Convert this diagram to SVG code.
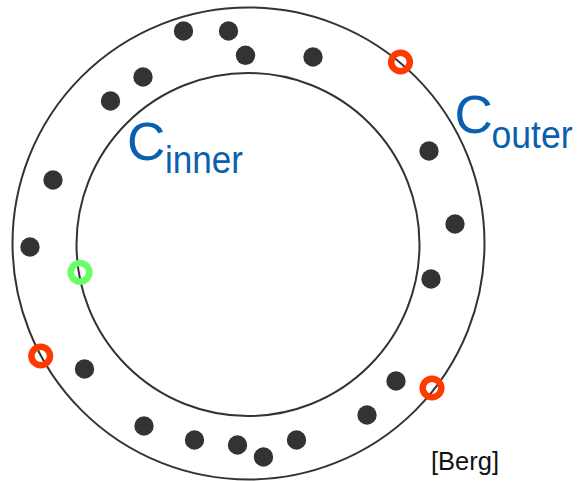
<svg xmlns="http://www.w3.org/2000/svg" width="577" height="481" viewBox="0 0 577 481">
<style>
.ring{fill:none;stroke:#333;stroke-width:2}
.pt{fill:#333}
.red{fill:none;stroke:#ff3a00;stroke-width:6.5}
.grn{fill:none;stroke:#66ff66;stroke-width:6.5}
.lbl{font-family:"Liberation Sans",Arial,sans-serif;fill:#0a5fb0}
.cite{font-family:"Liberation Sans",Arial,sans-serif;fill:#111;font-size:25px}
</style>
<rect width="577" height="481" fill="#fff"/>
<g id="outer-circle"><circle class="ring" cx="248.5" cy="243.5" r="236"/></g>
<g id="inner-circle"><circle class="ring" cx="248" cy="244.5" r="171.5"/></g>
<g id="points">
<circle class="pt" cx="183.5" cy="31" r="9.7"/>
<circle class="pt" cx="228.5" cy="31" r="9.7"/>
<circle class="pt" cx="245.5" cy="55.3" r="9.7"/>
<circle class="pt" cx="313" cy="57" r="9.7"/>
<circle class="pt" cx="143" cy="77" r="9.7"/>
<circle class="pt" cx="110.5" cy="101" r="9.7"/>
<circle class="pt" cx="53" cy="180" r="9.7"/>
<circle class="pt" cx="30" cy="247" r="9.7"/>
<circle class="pt" cx="84.5" cy="369" r="9.7"/>
<circle class="pt" cx="144" cy="426" r="9.7"/>
<circle class="pt" cx="194.5" cy="440" r="9.7"/>
<circle class="pt" cx="237.5" cy="445" r="9.7"/>
<circle class="pt" cx="263.5" cy="457" r="9.7"/>
<circle class="pt" cx="296.5" cy="440" r="9.7"/>
<circle class="pt" cx="367" cy="415" r="9.7"/>
<circle class="pt" cx="396" cy="381" r="9.7"/>
<circle class="pt" cx="429" cy="151" r="9.7"/>
<circle class="pt" cx="455" cy="224" r="9.7"/>
<circle class="pt" cx="431" cy="279" r="9.7"/>
</g>
<g id="red-points">
<circle class="red" cx="400.5" cy="62" r="9.3"/>
<circle class="red" cx="40.7" cy="356" r="9.3"/>
<circle class="red" cx="432" cy="388" r="9.3"/>
</g>
<g id="green-point"><circle class="grn" cx="80" cy="272.3" r="9.3"/></g>
<g id="label-outer">
<text class="lbl" x="454.5" y="132.5" font-size="53">C</text>
<text class="lbl" x="491.5" y="148" font-size="38" textLength="81" lengthAdjust="spacingAndGlyphs">outer</text>
</g>
<g id="label-inner">
<text class="lbl" x="127" y="159.5" font-size="53">C</text>
<text class="lbl" x="165" y="172.5" font-size="38" textLength="78" lengthAdjust="spacingAndGlyphs">inner</text>
</g>
<text class="cite" x="431" y="470" textLength="68" lengthAdjust="spacingAndGlyphs">[Berg]</text>
</svg>
